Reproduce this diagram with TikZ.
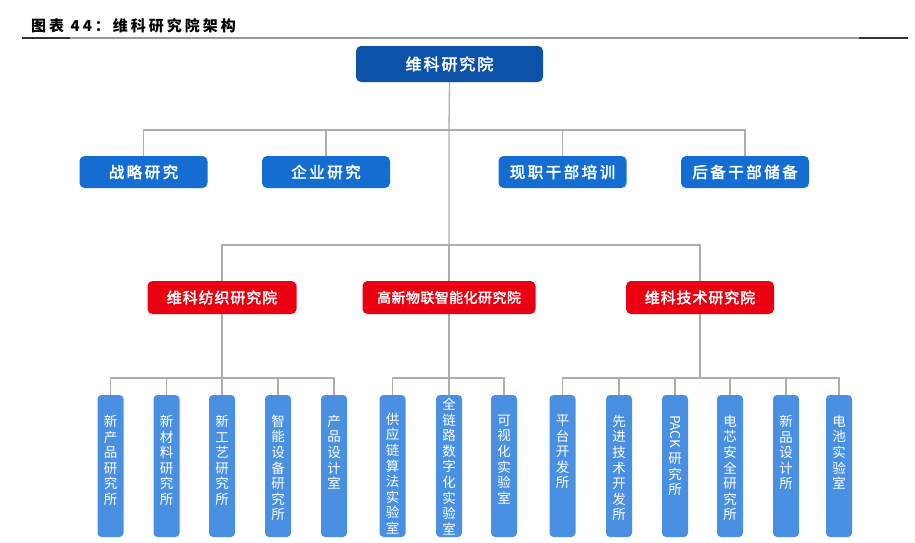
\documentclass[tikz,border=0pt]{standalone}
\usepackage{fontspec}
\usepackage{graphicx}
\setmainfont{Noto Sans CJK SC}
\newfontfamily\ftitle[LetterSpace=20]{Noto Sans CJK SC}
\newfontfamily\ftop[LetterSpace=12,FakeBold=2.5]{Noto Sans CJK SC}
\newfontfamily\flev[LetterSpace=16,FakeBold=2.5]{Noto Sans CJK SC}
\newfontfamily\fred[LetterSpace=6,FakeBold=2.2]{Noto Sans CJK SC}
\newfontfamily\fredn[LetterSpace=3,FakeBold=2.2]{Noto Sans CJK SC}
\usetikzlibrary{backgrounds}
\definecolor{topblue}{HTML}{0C52A8}
\definecolor{lblue}{HTML}{146ED2}
\definecolor{redc}{HTML}{EB0012}
\definecolor{vblue}{HTML}{4A90E2}
\definecolor{linegray}{HTML}{ADADAD}
\newcommand{\vl}[2][20pt]{\parbox[c][142pt][t]{26pt}{\centering\vspace*{#1}#2\par}}
\tikzset{
  base/.style={rounded corners=5pt, text=white, inner sep=0pt},
  topbox/.style={base, fill=topblue, minimum width=187pt, minimum height=36pt, font=\ftop\fontsize{16}{18}\selectfont},
  lbox/.style={base, fill=lblue, minimum width=128pt, minimum height=32pt, font=\flev\fontsize{15.5}{18}\selectfont},
  redbox/.style={base, fill=redc, minimum height=33pt, font=\fred\fontsize{15}{18}\selectfont},
  vbox/.style={rounded corners=4pt, fill=vblue, text=white, inner sep=0pt, minimum width=26pt, minimum height=142pt, font=\fontsize{13.5}{15.6}\selectfont},
  conn/.style={draw=linegray, line width=1.3pt},
}
\begin{document}
\begin{tikzpicture}[x=1pt,y=-1pt]
\useasboundingbox (0,0) rectangle (915,542);
% title
\node[anchor=west, inner sep=0pt, font=\ftitle\bfseries\fontsize{15}{17}\selectfont] (title) at (31,26) {图表 44：维科研究院架构};
\draw[black!40, line width=1.2pt] (22,38) -- (908,38);
\draw[black!80, line width=1.6pt] (22,38) -- (70,38);
\draw[black!80, line width=1.6pt] (859,38) -- (908,38);
% nodes
\node[topbox] (T) at (449.5,64) {维科研究院};
\node[lbox] (A) at (143.5,172) {战略研究};
\node[lbox] (B) at (326,172) {企业研究};
\node[lbox] (C) at (562.5,172) {现职干部培训};
\node[lbox] (D) at (745,172) {后备干部储备};
\node[redbox, minimum width=149pt] (R1) at (222,297.5) {维科纺织研究院};
\node[redbox, minimum width=173pt, font=\fredn\fontsize{14}{17}\selectfont] (R2) at (449,297.5) {高新物联智能化研究院};
\node[redbox, minimum width=148pt] (R3) at (700,297.5) {维科技术研究院};
% group 1
\node[vbox] (a1) at (110.5,466) {\vl{新\\产\\品\\研\\究\\所}};
\node[vbox] (a2) at (166.5,466) {\vl{新\\材\\料\\研\\究\\所}};
\node[vbox] (a3) at (222,466) {\vl{新\\工\\艺\\研\\究\\所}};
\node[vbox] (a4) at (278,466) {\vl{智\\能\\设\\备\\研\\究\\所}};
\node[vbox] (a5) at (334,466) {\vl{产\\品\\设\\计\\室}};
% group 2
\node[vbox] (b1) at (392.5,466) {\vl[18pt]{供\\应\\链\\算\\法\\实\\验\\室}};
\node[vbox] (b2) at (449,466) {\vl[3pt]{全\\链\\路\\数\\字\\化\\实\\验\\室}};
\node[vbox] (b3) at (504,466) {\vl{可\\视\\化\\实\\验\\室}};
% group 3
\node[vbox] (c1) at (562.5,466) {\vl{平\\台\\开\\发\\所}};
\node[vbox] (c2) at (619,466) {\vl{先\\进\\技\\术\\开\\发\\所}};
\node[vbox] (c3) at (675,466) {\vl{\rotatebox[origin=c]{-90}{PACK}\\[4pt]研\\究\\所}};
\node[vbox] (c4) at (730,466) {\vl{电\\芯\\安\\全\\研\\究\\所}};
\node[vbox] (c5) at (786,466) {\vl{新\\品\\设\\计\\所}};
\node[vbox] (c6) at (839,466) {\vl{电\\池\\实\\验\\室}};
% junctions
\coordinate (J1) at (449,130);
\coordinate (J2) at (449,245);
\coordinate (G1) at (222,378);
\coordinate (G2) at (449,378);
\coordinate (G3) at (700,378);
\begin{scope}[on background layer]
\draw[conn] (T.south) -- (J1) -- (J2);
\draw[conn] (A.north) |- (J1) -| (D.north);
\draw[conn] (B.north) -- (B.north |- J1);
\draw[conn] (C.north) -- (C.north |- J1);
\draw[conn] (R1.north) |- (J2) -| (R3.north);
\draw[conn] (J2) -- (R2.north);
\draw[conn] (R1.south) -- (G1);
\draw[conn] (R2.south) -- (G2);
\draw[conn] (R3.south) -- (G3);
\draw[conn] (a1.north) |- (G1) -| (a5.north);
\foreach \n in {a2,a3,a4} \draw[conn] (\n.north) -- (\n.north |- G1);
\draw[conn] (b1.north) |- (G2) -| (b3.north);
\draw[conn] (b2.north) -- (b2.north |- G2);
\draw[conn] (c1.north) |- (G3) -| (c6.north);
\foreach \n in {c2,c3,c4,c5} \draw[conn] (\n.north) -- (\n.north |- G3);
\end{scope}
\end{tikzpicture}
\end{document}
